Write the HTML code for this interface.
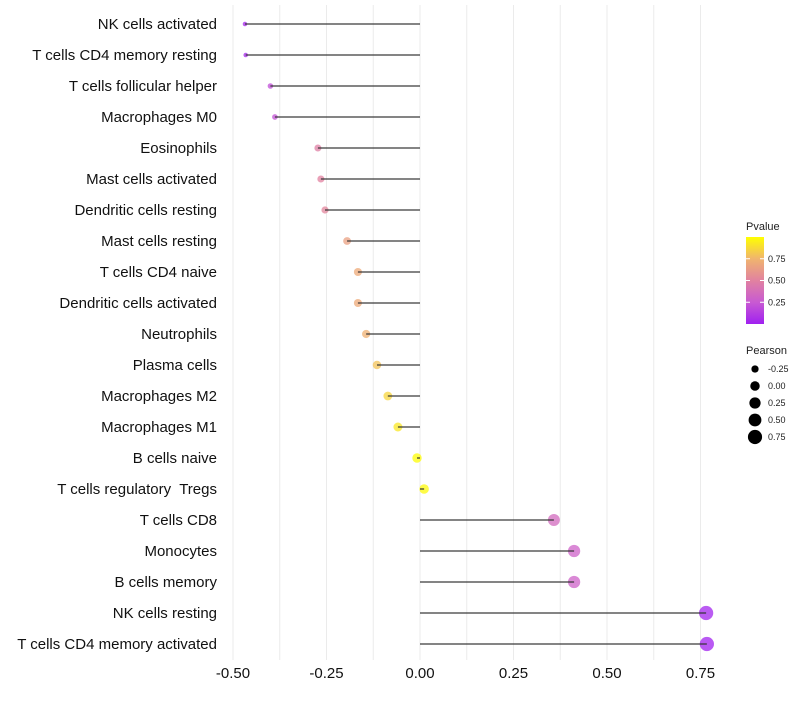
<!DOCTYPE html>
<html><head><meta charset="utf-8"><style>
body{margin:0;background:#fff;font-family:"Liberation Sans",sans-serif;}
</style></head><body>
<svg id="chart" width="800" height="700" xmlns="http://www.w3.org/2000/svg" font-family="Liberation Sans, sans-serif"></svg>
<script>
const categories=["NK cells activated","T cells CD4 memory resting","T cells follicular helper","Macrophages M0","Eosinophils","Mast cells activated","Dendritic cells resting","Mast cells resting","T cells CD4 naive","Dendritic cells activated","Neutrophils","Plasma cells","Macrophages M2","Macrophages M1","B cells naive","T cells regulatory  Tregs","T cells CD8","Monocytes","B cells memory","NK cells resting","T cells CD4 memory activated"];
const pearson=[-0.468,-0.466,-0.40,-0.388,-0.273,-0.265,-0.254,-0.195,-0.166,-0.166,-0.144,-0.115,-0.086,-0.059,-0.008,0.011,0.358,0.412,0.412,0.765,0.767];
const pvalue=[0.03,0.04,0.2,0.22,0.48,0.5,0.52,0.65,0.7,0.7,0.73,0.8,0.86,0.92,0.99,0.98,0.35,0.3,0.3,0.02,0.01];
const xTicks=[-0.5,-0.25,0,0.25,0.5,0.75];
const xTickLabels=["-0.50","-0.25","0.00","0.25","0.50","0.75"];
const legendSizes=[-0.25,0,0.25,0.5,0.75];
const legendSizeLabels=["-0.25","0.00","0.25","0.50","0.75"];
const colorTicks=[0.25,0.5,0.75];

const svg=document.getElementById('chart');
const NS='http://www.w3.org/2000/svg';
const x=v=>420+v*374;
const y=i=>24+i*31;
const r=v=>Math.sqrt(5+(v+0.47)/1.24*46);
const stops=[[160,32,240],[200,90,210],[225,130,160],[240,180,110],[255,255,0]];
function col(p){p=Math.max(0,Math.min(1,p));const s=Math.min(3,Math.floor(p*4));const t=p*4-s;
 const a=stops[s],b=stops[s+1];return `rgb(${a.map((c,i)=>Math.round(c+(b[i]-c)*t)).join(',')})`;}
function el(t,a,parent){const e=document.createElementNS(NS,t);for(const k in a)e.setAttribute(k,a[k]);(parent||svg).appendChild(e);return e;}

[-0.5,-0.375,-0.25,-0.125,0,0.125,0.25,0.375,0.5,0.625,0.75].forEach(v=>{
 const g=el('line',{x1:x(v),x2:x(v),y1:5,y2:660,stroke:'#ebebeb','stroke-width':1});
 
 
});
xTicks.forEach((v,i)=>{
 const t=el('text',{x:x(v),y:678,'text-anchor':'middle','font-size':15,fill:'#111'});
 t.textContent=xTickLabels[i];
 
 
});
categories.forEach((c,i)=>{
 const t=el('text',{x:217,y:y(i)+5,'text-anchor':'end','font-size':15,fill:'#111'});
 t.textContent=c;
 t.setAttribute('xml:space','preserve');
 t.style.whiteSpace='pre';
 
 
 const p=el('circle',{cx:x(pearson[i]),cy:y(i),r:r(pearson[i]),fill:col(pvalue[i]),'fill-opacity':0.75});
 
 
 const l=el('line',{x1:x(0),x2:x(pearson[i]),y1:y(i),y2:y(i),stroke:'#333','stroke-opacity':0.8,'stroke-width':1.5});
 
 
});
const lt=el('text',{x:746,y:230,'font-size':11,fill:'#222'});lt.textContent='Pvalue';


const defs=el('defs',{});
const gr=el('linearGradient',{id:'pg',x1:0,y1:1,x2:0,y2:0},defs);
[0,0.25,0.5,0.75,1].forEach(o=>el('stop',{offset:o,'stop-color':col(o)},gr));
const cb=el('rect',{x:746,y:237,width:18,height:87,fill:'url(#pg)'});


const cy=p=>324-p*87;
colorTicks.forEach(p=>{
 el('line',{x1:746,x2:750,y1:cy(p),y2:cy(p),stroke:'#fff'});
 el('line',{x1:760,x2:764,y1:cy(p),y2:cy(p),stroke:'#fff'});
 const t=el('text',{x:768,y:cy(p)+3,'font-size':9,fill:'#222'});t.textContent=p.toFixed(2);
 
 
});
const st=el('text',{x:746,y:354,'font-size':11,fill:'#222'});st.textContent='Pearson';


legendSizes.forEach((v,i)=>{
 const yy=369+i*17;
 const c=el('circle',{cx:755,cy:yy,r:r(v),fill:'#000'});
 
 
 const t=el('text',{x:768,y:yy+3,'font-size':9,fill:'#222'});t.textContent=legendSizeLabels[i];
 
 
});
</script>
</body></html>
